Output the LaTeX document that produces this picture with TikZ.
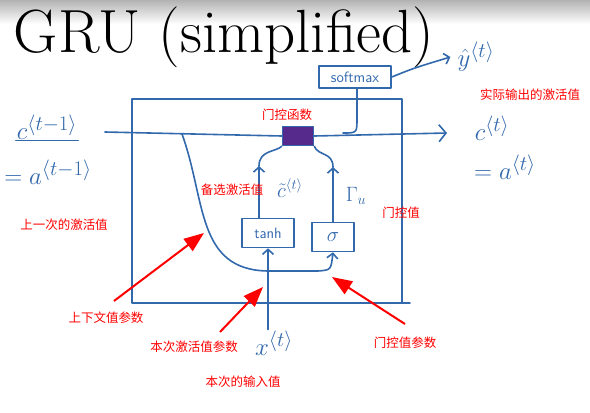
\documentclass[tikz,border=0pt]{standalone}
\usepackage{fontspec}
\newfontfamily\cjk{Noto Sans CJK SC}
\usetikzlibrary{arrows.meta}

\definecolor{penblue}{RGB}{50,104,172}
\definecolor{gatepurple}{RGB}{86,42,140}

\tikzset{
  pen/.style={draw=penblue, line width=1.6pt, line cap=round, line join=round},
  penarrow/.style={pen, -{Straight Barb[length=5pt,width=11pt]}},
  cellbox/.style={pen, text=penblue, inner sep=1pt, font=\sffamily\fontsize{15}{16}\selectfont},
  sym/.style={text=penblue, inner sep=1pt, font=\fontsize{28}{30}\selectfont},
  note/.style={text=red, inner sep=1pt, font=\cjk\fontsize{12.5}{14}\selectfont},
  hint/.style={draw=red, line width=2pt, -{Triangle[length=20pt,width=15pt]}},
}

\begin{document}
\begin{tikzpicture}[x=1pt,y=-1pt]
  \useasboundingbox (0,0) rectangle (590,413);
  \shade[top color=black!30, bottom color=white] (0,0) rectangle (590,24);

  % title
  \node[font=\fontsize{61}{64}\selectfont, inner sep=0pt] (title) at (224,37) {GRU (simplified)};

  % cell outline
  \draw[pen] (132,99) rectangle (402,303);
  \draw[pen] (402,303) -- (410,303);

  % blocks
  \node[pen, fill=gatepurple, minimum width=31pt, minimum height=19pt] (gate) at (298,136) {};
  \node[cellbox, minimum width=72pt, minimum height=22pt] (softmax) at (355,77) {softmax};
  \node[cellbox, minimum width=52pt, minimum height=29pt] (tanh) at (268,233) {tanh};
  \node[cellbox, minimum width=42pt, minimum height=29pt, font=\fontsize{20}{22}\selectfont] (sigma) at (333,237) {$\sigma$};

  % symbols
  \node[sym] (cprev) at (47,127) {$c^{\langle t-1\rangle}$};
  \node[sym] (aprev) at (48,172) {$=a^{\langle t-1\rangle}$};
  \node[sym] (cnext) at (492,128) {$c^{\langle t\rangle}$};
  \node[sym] (anext) at (505,167) {$=a^{\langle t\rangle}$};
  \node[sym] (yhat) at (476,57) {$\hat{y}^{\langle t\rangle}$};
  \node[sym] (xin) at (274,343) {$x^{\langle t\rangle}$};
  \node[sym, font=\fontsize{22}{24}\selectfont] (ctilde) at (290,188) {$\tilde{c}^{\langle t\rangle}$};
  \node[sym, font=\fontsize{22}{24}\selectfont] (gammau) at (356,196) {$\Gamma_{u}$};
  \draw[pen] (cprev.south west) -- (cprev.south east);

  \coordinate (cin) at (105,132);
  \coordinate (split) at (182,134);
  \coordinate (join) at (268,271);
  \coordinate (cout) at (447,133);
  \coordinate (tap) at (343,133);
  \coordinate (tanhup) at (259,166);
  \coordinate (sigmaup) at (333,167);

  % memory line
  \draw[pen] (cin) -- (gate.west);
  \draw[pen, -{Straight Barb[length=7pt,width=17pt]}] (gate.east) -- (cout);
  \draw[pen] (tap) .. controls (357,133) .. (357,118) -- (softmax.south -| 357,0);
  \draw[penarrow] (softmax.east) .. controls (414,68) .. ([xshift=-6pt]yhat.west);

  % candidate and gate inputs
  \draw[pen] (split) .. controls (206,200) and (196,270) .. (join);
  \draw[penarrow] (xin.north -| join) -- (tanh.south);
  \draw[penarrow] (join) -- (318,271) .. controls (331,270) .. (sigma.south);
  \draw[penarrow] ([xshift=-9pt]tanh.north) -- (tanhup);
  \draw[pen] (tanhup) .. controls (259,150) and (276,152) .. (gate.south west);
  \draw[penarrow] (sigma.north) -- (sigmaup);
  \draw[pen] (sigmaup) .. controls (333,152) and (318,156) .. (gate.south east);

  % notes
  \node[note] (gatefn) at (287,115) {门控函数};
  \node[note] (actual) at (530,95) {实际输出的激活值};
  \node[note] (cand) at (232,190) {备选激活值};
  \node[note] (gateval) at (401,213) {门控值};
  \node[note] (lastact) at (64,225) {上一次的激活值};
  \node[note] (ctx) at (106,318) {上下文值参数};
  \node[note] (act) at (194,347) {本次激活值参数};
  \node[note] (inval) at (243,382) {本次的输入值};
  \node[note] (gp) at (405,343) {门控值参数};

  \coordinate (ctxtip) at (204,233);
  \coordinate (acttip) at (263,287);
  \coordinate (gptip) at (332,277);
  \draw[hint] ([shift={(8pt,10pt)}]ctx.north) -- (ctxtip);
  \draw[hint] ([shift={(26pt,8pt)}]act.north) -- (acttip);
  \draw[hint] ([yshift=12pt]gp.north) -- (gptip);
\end{tikzpicture}
\end{document}
